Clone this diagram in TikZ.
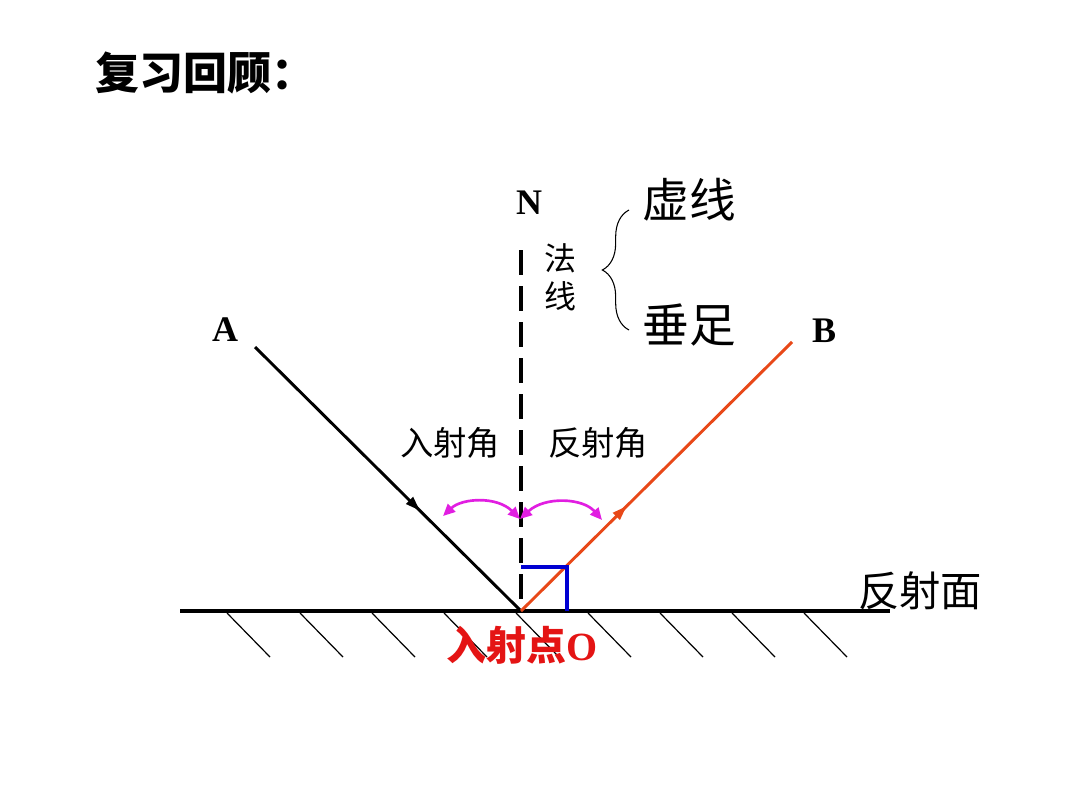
\documentclass[tikz,border=0pt]{standalone}
\usepackage{fontspec}
\setmainfont{Liberation Serif}
\newfontfamily\cjk{Noto Sans CJK SC}
\usetikzlibrary{arrows.meta,decorations.markings,decorations.pathreplacing}
\definecolor{refl}{RGB}{232,72,24}
\definecolor{mag}{RGB}{225,30,225}
\definecolor{rblue}{RGB}{0,0,210}
\definecolor{rred}{RGB}{228,20,20}
\begin{document}
\begin{tikzpicture}[x=0.75pt,y=-0.75pt,
  ray/.style={line width=2.2pt},
  hatch/.style={line width=0.9pt},
  lbl/.style={inner sep=0pt,anchor=center},
  midarrow/.style={postaction={decorate,decoration={markings,
     mark=at position #1 with {\arrow{Triangle[length=11pt,width=7pt]}}}}}]
\useasboundingbox (0,0) rectangle (1080,810);
% title
\node[lbl] (title) at (205,73) {\cjk\bfseries\fontsize{33}{36}\selectfont 复习回顾：};
% points
\coordinate (O) at (521,611);
\coordinate (Aend) at (255,347);
\coordinate (Bend) at (792,342);
\coordinate (Ntop) at (521,250);
\coordinate (SL) at (180,611);
\coordinate (SR) at (890,611);
% surface and hatches
\draw[line width=3pt] (SL) -- (SR);
\foreach \x in {227,300,372,444,516,588,660,732,804}{
  \draw[hatch] (\x,613) -- ++(43,44);
}
% normal
\draw[line width=3pt,dash pattern=on 19pt off 8pt] (Ntop) -- (O);
% incident and reflected rays
\draw[ray,midarrow=0.62] (Aend) -- (O);
\draw[ray,refl,midarrow=0.39] (O) -- (Bend);
% right angle mark
\coordinate (R1) at (521,567);
\coordinate (R2) at (567,567);
\coordinate (R3) at (567,611);
\draw[rblue,line width=2.4pt] (R1) -- (R2) -- (R3);
% angle arcs
\coordinate (L1) at (443,516);
\coordinate (M) at (520,519);
\coordinate (Rr) at (602,520);
\draw[mag,line width=2pt,{Triangle[length=9pt,width=8pt]}-{Triangle[length=9pt,width=8pt]}]
  (L1) .. controls (462,498) and (497,496) .. (M);
\draw[mag,line width=2pt,{Triangle[length=9pt,width=8pt]}-{Triangle[length=9pt,width=8pt]}]
  (M) .. controls (545,496) and (583,498) .. (Rr);
% labels
\node[lbl] (N) at (529,203) {\bfseries\fontsize{27}{30}\selectfont N};
\node[lbl] (A) at (225,330) {\bfseries\fontsize{27}{30}\selectfont A};
\node[lbl] (B) at (824,331) {\bfseries\fontsize{27}{30}\selectfont B};
\node[lbl] (fa) at (560,258) {\cjk\fontsize{24}{26}\selectfont 法};
\node[lbl] (xian) at (560,296) {\cjk\fontsize{24}{26}\selectfont 线};
\node[lbl] (xuxian) at (689,200) {\cjk\fontsize{35}{38}\selectfont 虚线};
\node[lbl] (chuizu) at (689,325) {\cjk\fontsize{35}{38}\selectfont 垂足};
\node[lbl] (rsj) at (450,443) {\cjk\fontsize{25}{28}\selectfont 入射角};
\node[lbl] (fsj) at (598,443) {\cjk\fontsize{25}{28}\selectfont 反射角};
\node[lbl] (fsm) at (920,591) {\cjk\fontsize{31}{34}\selectfont 反射面};
\node[lbl,text=rred] (rsd) at (522,645) {\cjk\bfseries\fontsize{30}{33}\selectfont 入射点\rmfamily O};
% brace
\coordinate (Bt) at (629,210);
\coordinate (Bb) at (629,330);
\draw[line width=0.8pt,decorate,decoration={brace,amplitude=20pt,raise=0pt}] (Bb) -- (Bt);
\end{tikzpicture}
\end{document}
